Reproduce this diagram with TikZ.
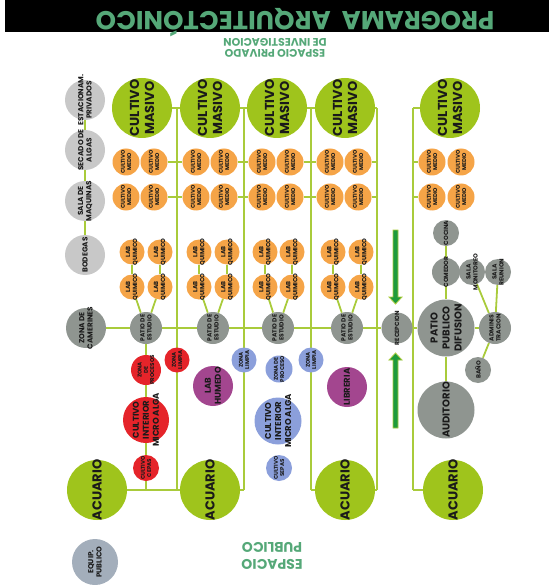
\documentclass[tikz,border=0pt]{standalone}
\usepackage{fontspec}
\setmainfont{Poppins}
\usetikzlibrary{backgrounds}
\definecolor{lime}{HTML}{9FC41C}
\definecolor{lgreen}{HTML}{A9CB3B}
\definecolor{orng}{HTML}{F5A447}
\definecolor{rred}{HTML}{E5242A}
\definecolor{bblue}{HTML}{8B9FDB}
\definecolor{purp}{HTML}{A3468F}
\definecolor{lgray}{HTML}{C8C8C8}
\definecolor{dgray}{HTML}{8F9590}
\definecolor{equipc}{HTML}{A3AEBB}
\definecolor{tgreen}{HTML}{55A878}
\definecolor{ink}{HTML}{1A1A1A}
\definecolor{arrg}{HTML}{1E9A3C}
\tikzset{
  fA/.style={font=\bfseries\fontsize{13}{15}\selectfont},
  fB/.style={font=\bfseries\fontsize{10}{12}\selectfont},
  fC/.style={font=\bfseries\fontsize{8.5}{10}\selectfont},
  fD/.style={font=\bfseries\fontsize{7.3}{8.3}\selectfont},
  fE/.style={font=\bfseries\fontsize{6}{7}\selectfont},
  fF/.style={font=\bfseries\fontsize{5.5}{6.3}\selectfont},
  conn/.style={draw=lgreen, line width=1.8pt},
  bigarrow/.style={fill=arrg, draw=lgreen, line width=0.8pt}
}
\newcommand\bub[6]{%
  \node[circle, fill=#1, minimum size=#2, inner sep=0pt] (#3) at (#4) {};
  \node[rotate=90, align=center, text=ink, inner sep=0pt, #5] at (#3) {#6};}
\begin{document}
\begin{tikzpicture}[x=1pt,y=-1pt]
\useasboundingbox (0,0) rectangle (549,585);
% title
\fill[black] (5,0) rectangle (549,32);
\node[rotate=180, anchor=base, text=tgreen, font=\bfseries\fontsize{26}{26}\selectfont, inner sep=0pt] (title) at (295,12) {PROGRAMA\ \ ARQUITECTÓNICO};
\node[rotate=180, text=tgreen, align=center, font=\bfseries\fontsize{11}{11.5}\selectfont, inner sep=0pt] (priv) at (275,48) {ESPACIO PRIVADO\\DE INVESTIGACION};
\node[rotate=180, text=tgreen, align=center, font=\bfseries\fontsize{14}{17}\selectfont, inner sep=0pt] (pub) at (272,556) {ESPACIO\\PUBLICO};

% left column
\bub{lgray}{40}{estac}{85,100}{fD}{ESTACIONAM.\\PRIVADOS}
\bub{lgray}{40}{secado}{85,150}{fD}{SECADO DE\\ALGAS}
\bub{lgray}{40}{sala}{85,201}{fD}{SALA DE\\MAQUINAS}
\bub{lgray}{40}{bodegas}{85,255}{fD}{BODEGAS}
\bub{dgray}{40}{camer}{86,328}{fD}{ZONA DE\\CAMERINES}

% cultivo masivo
\bub{lime}{60}{m1}{142,108}{fA}{CULTIVO\\MASIVO}
\bub{lime}{60}{m2}{210,108}{fA}{CULTIVO\\MASIVO}
\bub{lime}{60}{m3}{277,108}{fA}{CULTIVO\\MASIVO}
\bub{lime}{60}{m4}{345,108}{fA}{CULTIVO\\MASIVO}
\bub{lime}{60}{m5}{450,108}{fA}{CULTIVO\\MASIVO}

% cultivo medio
\foreach \c/\xa/\xb in {1/126/154, 2/196/224, 3/262/290, 4/330/358, 5/432/461}{
  \foreach \r/\yy in {1/162, 2/197}{
    \bub{orng}{27}{ma\c\r}{\xa,\yy}{fF}{CULTIVO\\MEDIO}
    \bub{orng}{27}{mb\c\r}{\xb,\yy}{fF}{CULTIVO\\MEDIO}
  }
}

% lab quimico
\foreach \c/\xa/\xb in {1/132/160, 2/199/227, 3/265/292, 4/333/361}{
  \foreach \r/\yy in {1/252, 2/287}{
    \bub{orng}{25}{la\c\r}{\xa,\yy}{fE}{LAB\\QUIMICO}
    \bub{orng}{25}{lb\c\r}{\xb,\yy}{fE}{LAB\\QUIMICO}
  }
}

% patios de estudio
\bub{dgray}{32}{p1}{146,328}{fE}{PATIO DE\\ESTUDIO}
\bub{dgray}{32}{p2}{213,328}{fE}{PATIO DE\\ESTUDIO}
\bub{dgray}{32}{p3}{278,328}{fE}{PATIO DE\\ESTUDIO}
\bub{dgray}{32}{p4}{347,328}{fE}{PATIO DE\\ESTUDIO}

% public side
\bub{dgray}{31}{rec}{397,328}{fE}{RECEPCION}
\bub{dgray}{57}{pp}{446,328}{fB}{PATIO\\PUBLICO\\DIFUSION}
\bub{dgray}{57}{aud}{446,410}{fB}{AUDITORIO}
\bub{dgray}{26}{cocina}{446,233}{fE}{COCINA}
\bub{dgray}{28}{comedor}{446,272}{fE}{COMEDOR}
\bub{dgray}{26}{mon}{472,272}{fE}{SALA\\MONITOREO}
\bub{dgray}{26}{reu}{498,272}{fE}{SALA\\REUNION}
\bub{dgray}{32}{adm}{495,328}{fE}{ADMINIS\\TRACION}
\bub{dgray}{26}{bano}{478,370}{fE}{BAÑO}

% red column
\bub{rred}{30}{zp1}{146,370}{fF}{ZONA\\DE\\PROCESOS}
\bub{rred}{25}{zl1}{177,360}{fF}{ZONA\\LIMPIA}
\bub{rred}{46}{ci1}{146,420}{fC}{CULTIVO\\INTERIOR\\MICRO ALGA}
\bub{rred}{26}{cc1}{146,468}{fF}{CULTIVO\\CEPAS}
\bub{purp}{40}{hum}{213,386}{fC}{LAB\\HUMEDO}
% blue column
\bub{bblue}{25}{zl2}{244,360}{fF}{ZONA\\LIMPIA}
\bub{bblue}{27}{zp2}{279,369}{fF}{ZONA DE\\PROCESO}
\bub{bblue}{47}{ci2}{278,421}{fC}{CULTIVO\\INTERIOR\\MICRO ALGA}
\bub{bblue}{26}{cs2}{279,468}{fF}{CULTIVO\\SEPAS}
\bub{bblue}{25}{zl3}{311,360}{fF}{ZONA\\LIMPIA}
\bub{purp}{40}{lib}{347,387}{fC}{LIBRERIA}

% acuarios
\bub{lime}{60}{ac1}{97,490}{fA}{ACUARIO}
\bub{lime}{60}{ac2}{210,490}{fA}{ACUARIO}
\bub{lime}{60}{ac3}{345,490}{fA}{ACUARIO}
\bub{lime}{60}{ac4}{453,490}{fA}{ACUARIO}

\bub{equipc}{46}{eq}{95,562}{fD}{EQUIP.\\PUBLICO}

% trunk coordinates
\coordinate (t1) at (177,108); \coordinate (t2) at (244,108);
\coordinate (t3) at (311,108); \coordinate (t4) at (377,108);
\coordinate (t5) at (413,108);
\coordinate (b1) at (177,490); \coordinate (b2) at (244,490);
\coordinate (b3) at (311,490); \coordinate (b4) at (377,490);
\coordinate (b5) at (413,490);

% arrows
\draw[bigarrow] (393,230) -- (398,230) -- (398,297) -- (402,297) -- (395.5,304) -- (389,297) -- (393,297) -- cycle;
\draw[bigarrow] (395.5,353) -- (402,360) -- (398,360) -- (398,428) -- (393,428) -- (393,360) -- (389,360) -- cycle;

\begin{scope}[on background layer]
  \foreach \i in {1,...,5}{\draw[conn] (t\i) -- (b\i);}
  \draw[conn] (m1) -- (m2);
  \draw[conn] (m2) -- (m3);
  \draw[conn] (m3) -- (m4);
  \draw[conn] (m4) -- (t4);
  \draw[conn] (t5) -- (m5);
  \foreach \r in {1,2}{
    \draw[conn] (mb1\r) -- (ma2\r);
    \draw[conn] (mb2\r) -- (ma3\r);
    \draw[conn] (mb3\r) -- (ma4\r);
    \draw[conn] (mb4\r) -- (mb4\r -| t4);
    \draw[conn] (ma5\r -| t5) -- (ma5\r);
  }
  \draw[conn] (camer) -- (p1) -- (p2) -- (p3) -- (p4) -- (rec) -- (pp) -- (adm);
  \foreach \c in {1,...,4}{
    \draw[conn] (la\c1) -- (la\c2);
    \draw[conn] (lb\c1) -- (lb\c2);
    \draw[conn] (la\c2) -- (p\c);
    \draw[conn] (lb\c2) -- (p\c);
  }
  \draw[conn] (p1) -- (p1 |- ac1);
  \draw[conn] (ac1) -- (ac2);
  \draw[conn] (ac2) -- (b2);
  \draw[conn] (b3) -- (ac3);
  \draw[conn] (ac3) -- (b4);
  \draw[conn] (b5) -- (ac4);
  \draw[conn] (estac) -- (secado) -- (sala) -- (bodegas);
  \draw[conn] (cocina) -- (comedor) -- (pp) -- (aud);
  \draw[conn] (adm) -- (mon);
  \draw[conn] (adm) -- (reu);
  \draw[conn] (adm) -- (bano);
\end{scope}
\end{tikzpicture}
\end{document}
